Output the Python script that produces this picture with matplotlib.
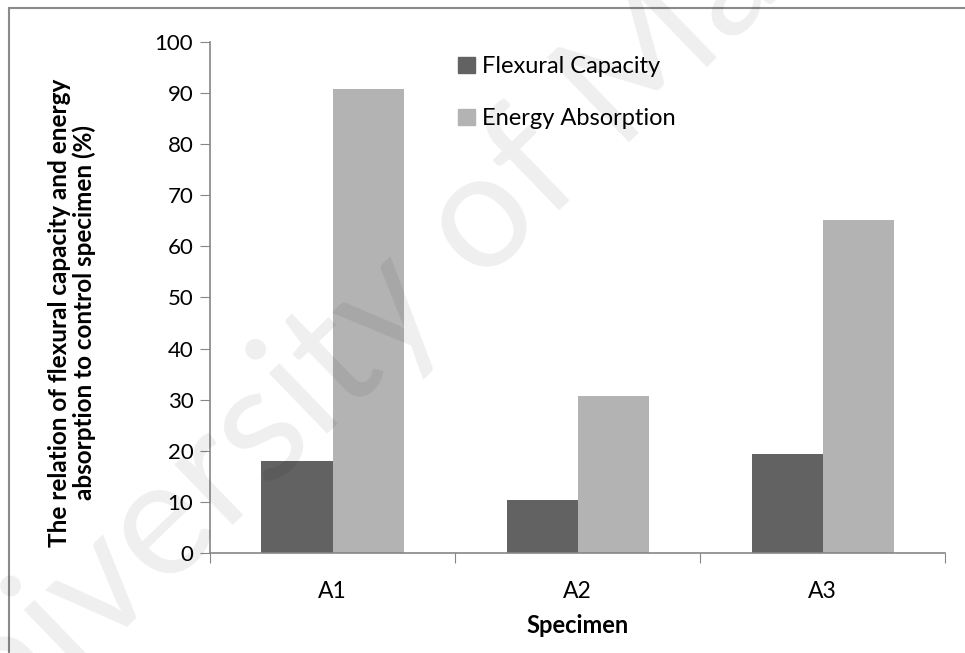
import matplotlib
matplotlib.use("Agg")
import matplotlib.pyplot as plt
from matplotlib.patches import Patch, Rectangle
import numpy as np

plt.rcParams['font.family'] = ['Lato', 'DejaVu Sans']

specimens = ['A1', 'A2', 'A3']
flexural_capacity = [18.0, 10.4, 19.4]
energy_absorption = [90.7, 30.8, 65.2]
series_labels = ['Flexural Capacity', 'Energy Absorption']
y_ticks = [0, 10, 20, 30, 40, 50, 60, 70, 80, 90, 100]

dark = '#626262'
light = '#b3b3b3'
axis_grey = '#868686'

fig = plt.figure(figsize=(9.65, 6.53), dpi=100)
ax = fig.add_axes([0.2176, 0.153, 0.762, 0.783])

x = np.arange(len(specimens))
w = 0.29
ax.bar(x - w / 2, flexural_capacity, w, color=dark, zorder=2)
ax.bar(x + w / 2, energy_absorption, w, color=light, zorder=2)

ax.set_xlim(-0.5, 2.5)
ax.set_ylim(0, 100)
ax.set_yticks(y_ticks)
ax.tick_params(axis='y', direction='out', length=7, color=axis_grey,
               labelsize=16, pad=5)

# category boundaries get the tick marks, names sit between them
ax.set_xticks(np.arange(-0.5, 2.51, 1.0))
ax.set_xticklabels([])
ax.set_xticks(x, minor=True)
ax.set_xticklabels(specimens, minor=True, fontsize=16.5)
ax.tick_params(axis='x', which='major', direction='out', length=7, color=axis_grey)
ax.tick_params(axis='x', which='minor', length=0, pad=20)

for side in ['top', 'right']:
    ax.spines[side].set_visible(False)
for side in ['left', 'bottom']:
    ax.spines[side].set_color(axis_grey)
    ax.spines[side].set_linewidth(1.2)

ax.set_xlabel('Specimen', fontsize=17, fontweight='bold', labelpad=9)
ax.set_ylabel('The relation of flexural capacity and energy\nabsorption to control specimen (%)',
              fontsize=17.5, fontweight='bold', linespacing=1.05)
ax.yaxis.set_label_coords(-0.155, 0.47)

handles = [Patch(color=dark), Patch(color=light)]
fig.legend(handles, series_labels, loc='upper left', bbox_to_anchor=(0.458, 0.939),
           frameon=False, fontsize=17, handlelength=0.7, handleheight=0.7,
           handletextpad=0.3, labelspacing=1.3, borderpad=0.2)

# outer frame
fig.patches.append(Rectangle((9 / 965, -0.1), 1.2, 1 - 8 / 653 + 0.1,
                             transform=fig.transFigure, fill=False,
                             edgecolor='#8a8a8a', linewidth=1.5))

# faint watermark across the figure
fig.text(-0.169, -0.295, 'University of Malaya', fontsize=118, rotation=44,
         color='black', alpha=0.065, ha='left', va='bottom',
         transform=fig.transFigure, zorder=10)

fig.savefig('out.png', dpi=100)
